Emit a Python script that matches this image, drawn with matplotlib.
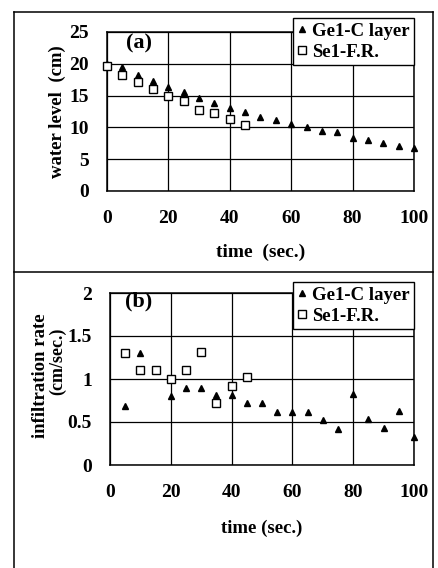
import matplotlib
matplotlib.use("Agg")
import matplotlib.pyplot as plt
from matplotlib.lines import Line2D

plt.rcParams['font.family'] = ['Liberation Serif', 'DejaVu Serif']
plt.rcParams['font.weight'] = 'bold'

# (a) water level
t_ge_a = [0, 5, 10, 15, 20, 25, 30, 35, 40, 45, 50, 55, 60, 65, 70, 75, 80, 85, 90, 95, 100]
wl_ge = [20.0, 19.5, 18.3, 17.3, 16.4, 15.5, 14.7, 13.9, 13.1, 12.4, 11.7, 11.2, 10.6,
         10.0, 9.5, 9.2, 8.4, 8.0, 7.5, 7.0, 6.7]
t_se_a = [0, 5, 10, 15, 20, 25, 30, 35, 40, 45]
wl_se = [19.6, 18.2, 17.2, 16.1, 15.0, 14.1, 12.8, 12.2, 11.3, 10.3]

# (b) infiltration rate
t_ge_b = [5, 10, 20, 25, 30, 35, 40, 45, 50, 55, 60, 65, 70, 75, 80, 85, 90, 95, 100]
ir_ge = [0.69, 1.30, 0.80, 0.90, 0.90, 0.81, 0.81, 0.72, 0.72, 0.62, 0.62, 0.62,
         0.52, 0.42, 0.83, 0.53, 0.43, 0.63, 0.33]
t_se_b = [5, 10, 15, 20, 25, 30, 35, 40, 45]
ir_se = [1.30, 1.11, 1.11, 1.00, 1.11, 1.31, 0.72, 0.92, 1.02]

xticks = [0, 20, 40, 60, 80, 100]

W, H = 439, 568
fig = plt.figure(figsize=(W / 100, H / 100), dpi=100)


def px_axes(l, r, t, b):
    return fig.add_axes([l / W, 1 - b / H, (r - l) / W, (b - t) / H])


def style(ax, ylim, yticks, ylabels):
    ax.set_xlim(0, 100)
    ax.set_ylim(*ylim)
    ax.set_xticks(xticks)
    ax.set_yticks(yticks)
    ax.set_yticklabels(ylabels)
    ax.tick_params(length=0, labelsize=14)
    ax.tick_params(axis='x', pad=14)
    ax.tick_params(axis='y', pad=13)
    ax.grid(True, color='black', lw=0.9)
    ax.set_axisbelow(True)
    for s in ax.spines.values():
        s.set_linewidth(1.1)


def points(ax, tg, vg, ts, vs):
    ax.plot(tg, vg, ls='none', marker='^', ms=5, color='black', label='Ge1-C layer',
            zorder=3, clip_on=False)
    ax.plot(ts, vs, ls='none', marker='s', ms=6, mfc='white', mec='black', mew=1,
            label='Se1-F.R.', zorder=3, clip_on=False)


def legend(ax, top_px, ax_top_px, ax_h):
    leg = ax.legend(loc='upper right', bbox_to_anchor=(1.0, 1 + (ax_top_px - top_px) / ax_h),
                    borderaxespad=0, fancybox=False, framealpha=1, edgecolor='black',
                    handlelength=0.5, handletextpad=0.25, borderpad=0.25, labelspacing=0.2,
                    prop={'size': 13.5, 'weight': 'bold'})
    leg.get_frame().set_linewidth(1.0)
    leg.set_zorder(5)


# panel a
ax1 = px_axes(107, 414, 32, 191)
points(ax1, t_ge_a, wl_ge, t_se_a, wl_se)
style(ax1, (0, 25), [0, 5, 10, 15, 20, 25], ['0', '5', '10', '15', '20', '25'])
legend(ax1, 18, 32, 159)
ax1.set_ylabel('water level  (cm)', fontsize=13.5, fontweight='bold')
ax1.yaxis.set_label_coords(-0.134, 0.5)
ax1.set_xlabel('time  (sec.)', fontsize=14, fontweight='bold')
ax1.xaxis.set_label_coords(0.5, -0.33)
ax1.text(0.104, 0.93, '(a)', transform=ax1.transAxes, fontsize=16, fontweight='bold',
         ha='center', va='center')

# panel b
ax2 = px_axes(110, 414, 293, 465)
points(ax2, t_ge_b, ir_ge, t_se_b, ir_se)
style(ax2, (0, 2), [0, 0.5, 1, 1.5, 2], ['0', '0.5', '1', '1.5', '2'])
legend(ax2, 282, 293, 172)
ax2.set_ylabel('infiltration rate', fontsize=13.5, fontweight='bold')
ax2.yaxis.set_label_coords(-0.2, 0.52)
ax2.text(-0.172, 0.6, '(cm/sec.)', transform=ax2.transAxes, rotation=90, fontsize=13,
         fontweight='bold', ha='center', va='center')
ax2.set_xlabel('time (sec.)', fontsize=13.5, fontweight='bold')
ax2.xaxis.set_label_coords(0.50, -0.32)
ax2.text(0.095, 0.948, '(b)', transform=ax2.transAxes, fontsize=16, fontweight='bold',
         ha='center', va='center')

# outer frame
for xs, ys in [([14, 433], [12, 12]), ([14, 14], [12, 568]), ([433, 433], [12, 568]),
               ([14, 433], [272, 272])]:
    fig.add_artist(Line2D([x / W for x in xs], [1 - y / H for y in ys], color='black',
                          lw=1.1, transform=fig.transFigure))

fig.savefig('out.png', dpi=100)
